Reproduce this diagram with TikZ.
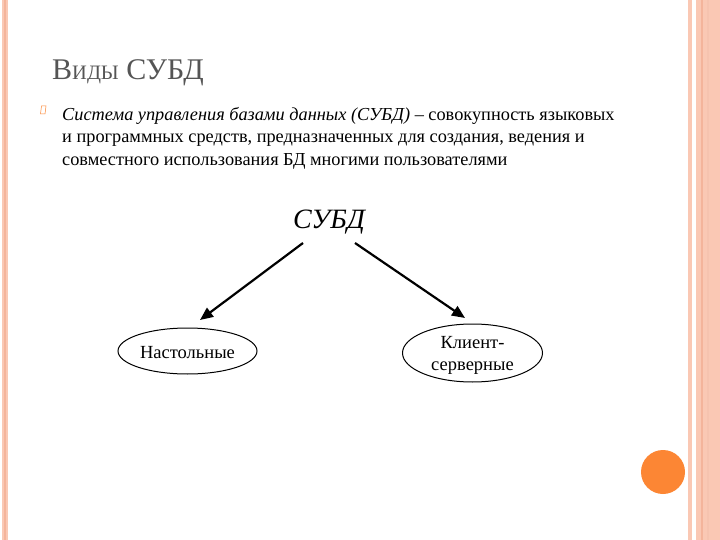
\documentclass[tikz,border=0pt]{standalone}
\usepackage{fontspec}
\setmainfont{Liberation Serif}
\usetikzlibrary{arrows.meta,shapes.geometric}
\definecolor{peach}{RGB}{250,200,180}
\definecolor{peachd}{RGB}{244,180,155}
\definecolor{orng}{RGB}{252,134,52}
\definecolor{ttl}{RGB}{85,85,85}
\tikzset{
  x=1pt,y=-1pt,
  oval/.style={draw,ellipse,line width=1pt,inner sep=0},
  arr/.style={-{Triangle[length=13pt,width=11pt]},line width=2.2pt},
}
\begin{document}
\begin{tikzpicture}
\useasboundingbox[fill=white] (0,0) rectangle (720,540);
% borders
\fill[peach] (2,0) rectangle (8,540);
\fill[peachd] (4,0) rectangle (6,540);
\fill[peach] (688,0) rectangle (692,540);
\fill[peach] (696,0) rectangle (720,540);
\fill[peachd] (700.5,0) rectangle (702.5,540);
\fill[peachd!80] (707,0) rectangle (709,540);
\fill[orng] (663,472) circle (22);
% title
\node[anchor=base west,inner sep=0,text=ttl,font=\fontsize{30}{30}\selectfont] (title) at (52,80) {В{\fontsize{20.5}{20.5}\selectfont ИДЫ} СУБД};
% bullet
\draw[orng,line width=0.5pt] (41.5,106) -- (46,106) -- (45,114) -- (40.5,114) -- cycle;
\node[anchor=north west,inner sep=0,align=left,font=\fontsize{18.3}{22.5}\selectfont] (body) at (62,107)
 {\textit{Система управления базами данных (СУБД)} -- совокупность языковых\\
  и программных средств, предназначенных для создания, ведения и\\
  совместного использования БД многими пользователями};
% diagram
\node[font=\itshape\fontsize{28}{28}\selectfont,inner sep=0] (subd) at (329,222) {СУБД};
\node[oval,minimum width=139pt,minimum height=46pt] (nast) at (187.5,351) {};
\node[font=\fontsize{18.5}{18.5}\selectfont,inner sep=0] (nastt) at (187.5,353) {Настольные};
\node[oval,minimum width=140pt,minimum height=58pt] (kl) at (472.5,353) {};
\node[align=center,font=\fontsize{18.5}{22}\selectfont,inner sep=0] (klt) at (472.5,355) {Клиент-\\серверные};
\coordinate (a1) at (303,243);
\coordinate (a2) at (355,243);
\draw[arr] (a1) -- (200,320);
\draw[arr] (a2) -- (465,318);
\end{tikzpicture}
\end{document}
